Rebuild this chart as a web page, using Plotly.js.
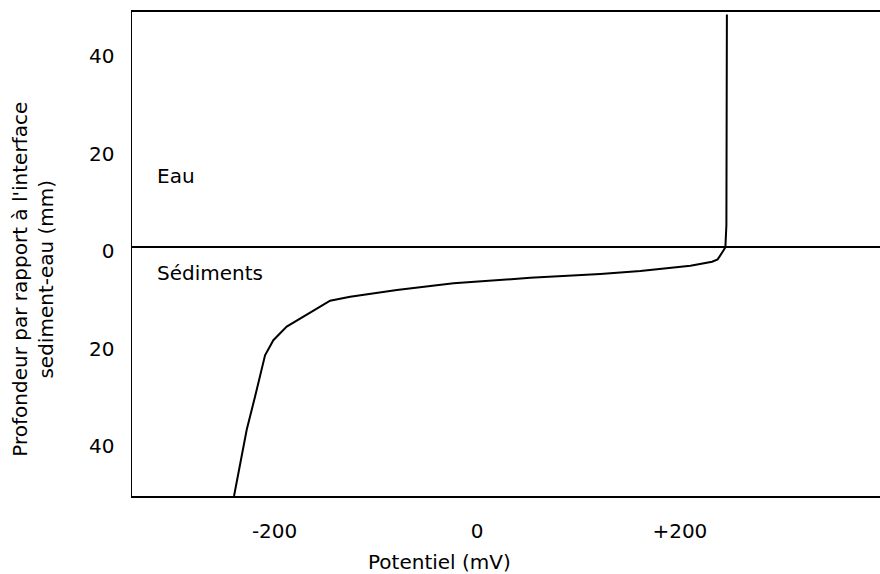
<!DOCTYPE html>
<html>
<head>
<meta charset="utf-8">
<script src="https://cdn.plot.ly/plotly-3.0.1.min.js"></script>
<style>html,body{margin:0;padding:0;background:#fff;}#chart{width:880px;height:574px;}</style>
</head>
<body>
<div id="chart"></div>
<script>
// Redox potential profile (mV) versus depth relative to sediment-water interface (mm)
const potential = [246.4, 246.4, 245.9, 244.9, 243.3, 237.3, 231.8, 210.4, 161.0, 121.5, 52.3, -23.4, -79.3, -125.4, -145.2, -158.3, -188.0, -201.2, -209.4, -219.3, -227.5, -240.0];
const depth     = [47.8, 4.9, 4.5, 0, -0.6, -2.5, -3.0, -3.8, -4.9, -5.5, -6.3, -7.4, -8.8, -10.2, -11.0, -12.6, -16.3, -19.1, -22.2, -30.7, -37.5, -51.1];

const xTickVals = [-200, 0, 200];
const xTickText = ['-200', '0', '+200'];
const yTickVals = [40, 20, 0, -20, -40];
const yTickText = ['40', '20', '0', '20', '40'];

const FONT = 'Comic Sans MS, DejaVu Sans, sans-serif';

const trace = {
  x: potential, y: depth, type: 'scatter', mode: 'lines',
  line: {color: '#000', width: 2}, hoverinfo: 'skip'
};

const layout = {
  width: 880, height: 574,
  margin: {l: 132, r: 0, t: 11.5, b: 78},
  paper_bgcolor: '#fff', plot_bgcolor: '#fff',
  showlegend: false,
  font: {family: FONT, size: 20, color: '#000'},
  xaxis: {
    range: [-340.7, 397.5], showgrid: false, zeroline: false,
    showline: true, linecolor: '#000', linewidth: 2, mirror: true,
    ticks: '', tickvals: xTickVals, ticktext: xTickText,
    tickfont: {family: FONT, size: 20, color: '#000'},
    ticklabelstandoff: 16
  },
  yaxis: {
    range: [-51.1, 48.3], showgrid: false,
    zeroline: true, zerolinecolor: '#000', zerolinewidth: 2,
    showline: true, linecolor: '#000', linewidth: 1.5, mirror: false,
    ticks: '', tickvals: yTickVals, ticktext: yTickText,
    tickfont: {family: FONT, size: 20, color: '#000'},
    ticklabelstandoff: 12, ticklabelshift: 4
  },
  annotations: [
    {x: -318, y: 14.6, xref: 'x', yref: 'y', text: 'Eau', showarrow: false, xanchor: 'left', yanchor: 'middle', font: {family: FONT, size: 20, color: '#000'}},
    {x: -318, y: -5.4, xref: 'x', yref: 'y', text: 'Sédiments', showarrow: false, xanchor: 'left', yanchor: 'middle', font: {family: FONT, size: 20, color: '#000'}},
    {x: -37.5, y: -0.1356, xref: 'x', yref: 'paper', text: 'Potentiel (mV)', showarrow: false, xanchor: 'center', yanchor: 'middle', font: {family: FONT, size: 20, color: '#000'}},
    {x: -0.1317, y: 0.448, xref: 'paper', yref: 'paper', text: "Profondeur par rapport à l'interface<br>sediment-eau (mm)", textangle: -90, showarrow: false, xanchor: 'center', yanchor: 'middle', font: {family: FONT, size: 20, color: '#000'}}
  ]
};

Plotly.newPlot('chart', [trace], layout, {displayModeBar: false, staticPlot: true});
</script>
</body>
</html>
